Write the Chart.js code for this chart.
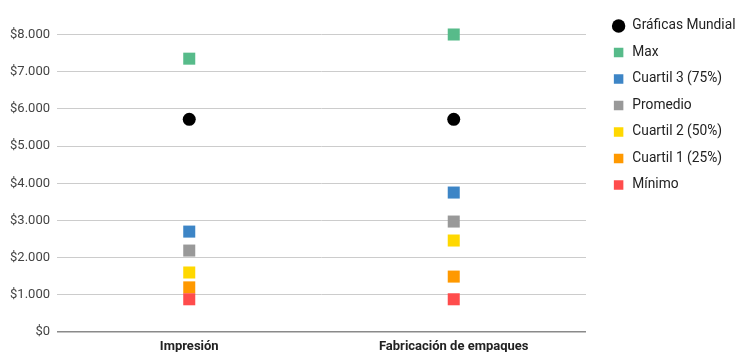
<!DOCTYPE html>
<html>
<head>
<meta charset="utf-8">
<script src="https://cdn.jsdelivr.net/npm/chart.js@4/dist/chart.umd.min.js"></script>
<style>
  html, body { margin: 0; padding: 0; background: #fff; }
  #wrap { width: 752px; height: 352px; }
</style>
</head>
<body>
<div id="wrap"><canvas id="c" width="752" height="352"></canvas></div>
<script>
const categories = ['Impresión', 'Fabricación de empaques'];
const seriesNames = ['Gráficas Mundial', 'Max', 'Cuartil 3 (75%)', 'Promedio', 'Cuartil 2 (50%)', 'Cuartil 1 (25%)', 'Mínimo'];
const graficasMundial = [5720, 5720];
const maxValues = [7350, 8000];
const cuartil3 = [2700, 3750];
const promedio = [2190, 2970];
const cuartil2 = [1600, 2460];
const cuartil1 = [1200, 1490];
const minimo = [880, 880];
const yTicks = [0, 1000, 2000, 3000, 4000, 5000, 6000, 7000, 8000];

const seriesValues = [graficasMundial, maxValues, cuartil3, promedio, cuartil2, cuartil1, minimo];
const seriesColors = ['#000000', '#57bb8a', '#3d85c6', '#999999', '#ffd800', '#ff9900', '#ff4c4c'];
const seriesShapes = ['circle', 'rect', 'rect', 'rect', 'rect', 'rect', 'rect'];

function spacer(position, size) {
  return {
    id: 'spacer_' + position,
    beforeInit(chart) {
      const box = {
        position: position, weight: 1, fullSize: false,
        options: {},
        width: 0, height: 0, left: 0, top: 0, right: 0, bottom: 0,
        isHorizontal() { return position === 'top' || position === 'bottom'; },
        update(maxWidth, maxHeight) {
          if (this.isHorizontal()) { this.width = maxWidth; this.height = size; }
          else { this.width = size; this.height = maxHeight; }
        },
        draw() {}
      };
      Chart.layouts.addBox(chart, box);
    }
  };
}

const fmt = v => '$' + v.toString().replace(/\B(?=(\d{3})+(?!\d))/g, '.');

const datasets = seriesNames.map((name, i) => ({
  label: name,
  data: seriesValues[i],
  showLine: false,
  clip: false,
  pointStyle: seriesShapes[i],
  pointRadius: seriesShapes[i] === 'circle' ? 6.5 : 8.5,
  pointHoverRadius: seriesShapes[i] === 'circle' ? 6.5 : 8.5,
  pointBackgroundColor: seriesColors[i],
  pointBorderColor: seriesColors[i],
  pointBorderWidth: 0,
  backgroundColor: seriesColors[i],
  borderColor: seriesColors[i],
  order: seriesNames.length - i
}));

new Chart(document.getElementById('c'), {
  type: 'line',
  data: { labels: categories, datasets },
  plugins: [spacer('top', 28.1), spacer('right', 13)],
  options: {
    responsive: false,
    animation: false,
    devicePixelRatio: 1,
    layout: { autoPadding: false, padding: { top: 6.4, right: 6.5, bottom: 0, left: 0 } },
    plugins: {
      tooltip: { enabled: false },
      legend: {
        position: 'right',
        align: 'start',
        maxWidth: 220,
        labels: {
          usePointStyle: true,
          boxWidth: 16,
          boxHeight: 9.5,
          padding: 12.75,
          color: '#222',
          font: { family: 'Roboto', size: 13.75 },
          sort: (a, b) => a.datasetIndex - b.datasetIndex
        }
      }
    },
    scales: {
      x: {
        type: 'category',
        offset: true,
        afterFit: s => { s.height = 20; },
        grid: { display: false, drawTicks: false },
        border: { display: false },
        ticks: { padding: 6.5, color: '#222', font: { family: 'Roboto', size: 13, weight: 'bold' } }
      },
      y: {
        min: 0,
        max: 8000,
        afterFit: s => { s.width = 57; },
        afterBuildTicks: s => { s.ticks = yTicks.map(v => ({ value: v })); },
        grid: {
          drawTicks: false,
          color: ctx => (ctx.tick && ctx.tick.value === 0) ? '#8a8a8a' : '#cccccc',
          lineWidth: ctx => (ctx.tick && ctx.tick.value === 0) ? 1.5 : 1
        },
        border: { display: false },
        ticks: { padding: 7, color: '#444', font: { family: 'Roboto', size: 13 }, callback: v => fmt(v) }
      }
    }
  }
});
</script>
</body>
</html>
